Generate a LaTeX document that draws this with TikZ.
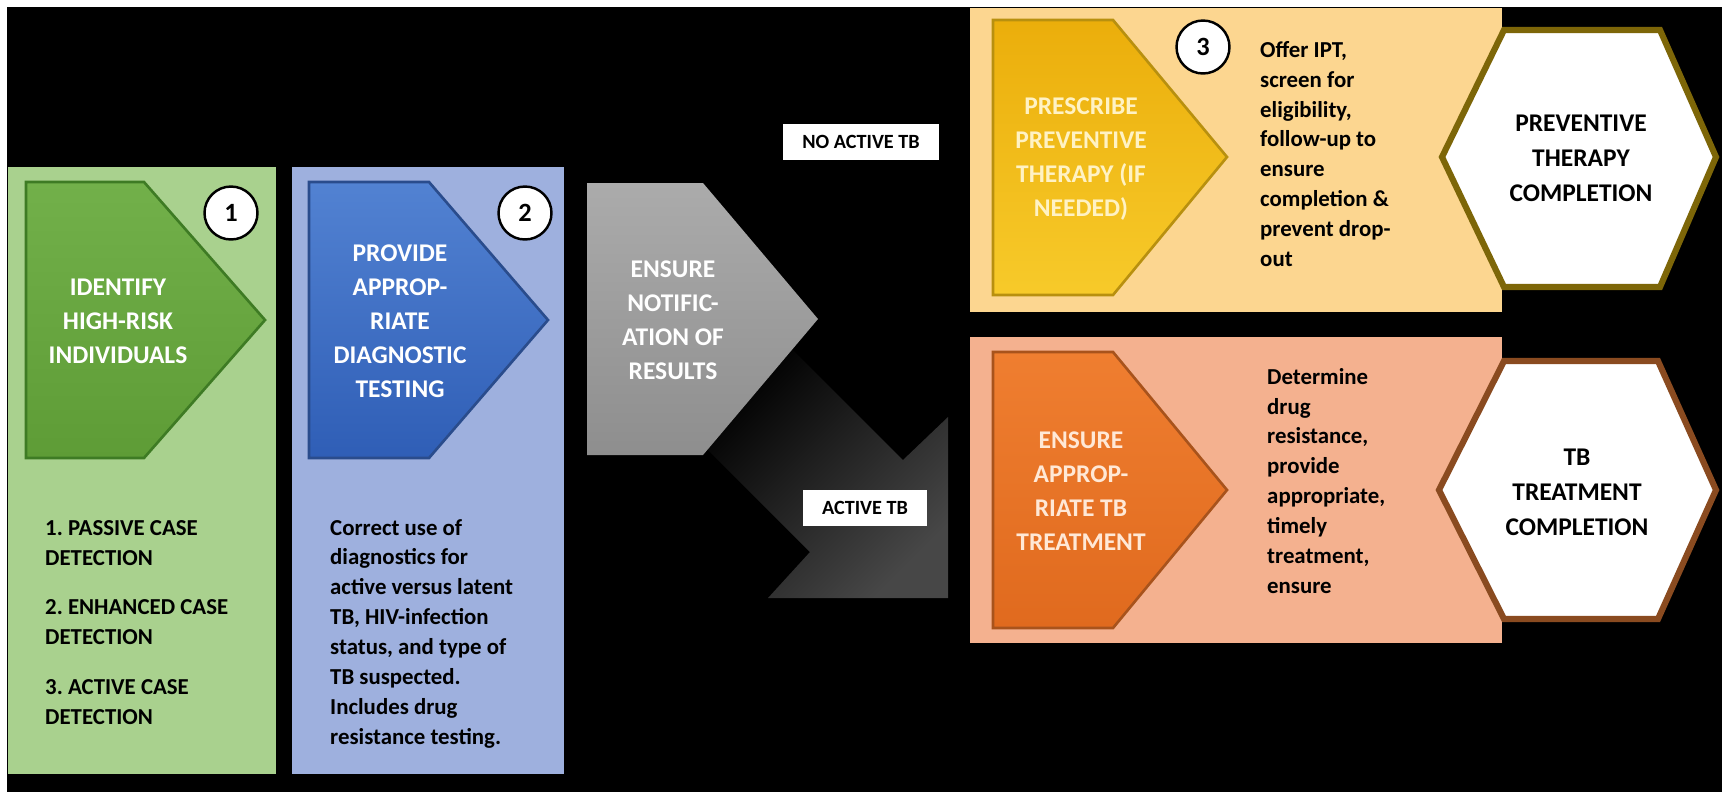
\documentclass[tikz,border=0pt]{standalone}
\usepackage{fontspec}
\setmainfont{Carlito}
\usepackage{tikz}
\frenchspacing

\definecolor{greenpanel}{HTML}{A9D18E}
\definecolor{greentop}{HTML}{72B04A}
\definecolor{greenbot}{HTML}{5E9C36}
\definecolor{greenline}{HTML}{3E7B24}
\definecolor{bluepanel}{HTML}{9EB0DE}
\definecolor{bluetop}{HTML}{5282D2}
\definecolor{bluebot}{HTML}{2F5EB6}
\definecolor{blueline}{HTML}{2A4C8C}
\definecolor{greytop}{HTML}{ABABAB}
\definecolor{greybot}{HTML}{8E8E8E}
\definecolor{darkhead}{HTML}{474747}
\definecolor{yellowpanel}{HTML}{FCD690}
\definecolor{yellowtop}{HTML}{EBAE0B}
\definecolor{yellowbot}{HTML}{F7CA2A}
\definecolor{yellowline}{HTML}{B8900F}
\definecolor{yellowtext}{HTML}{FFF2C4}
\definecolor{pinkpanel}{HTML}{F4B18F}
\definecolor{orangetop}{HTML}{EF7E30}
\definecolor{orangebot}{HTML}{E06A1E}
\definecolor{orangeline}{HTML}{A8531C}
\definecolor{orangetext}{HTML}{FFE8D6}
\definecolor{oliveline}{HTML}{7D6608}
\definecolor{brownline}{HTML}{8A4B20}

\begin{document}
\begin{tikzpicture}[x=0.02cm, y=-0.02cm,
  stagetext/.style={text=#1, font=\bfseries\fontsize{14.5}{19.4}\selectfont, align=center},
  notetext/.style={anchor=north west, font=\bfseries\fontsize{13}{17}\selectfont, align=left},
  badge/.style={circle, draw=black, line width=1.4pt, fill=white, minimum size=1.06cm,
    inner sep=0pt, font=\bfseries\fontsize{15}{18}\selectfont},
  tagbox/.style={fill=white, minimum width=#1, minimum height=0.72cm, inner sep=0pt,
    font=\bfseries\fontsize{11.5}{14}\selectfont},
  goal/.style={fill=white, line width=3.5pt, line join=miter},
  goaltext/.style={font=\bfseries\fontsize{14.5}{20}\selectfont, align=center}]

  \fill[white] (0,0) rectangle (1722,792);
  \fill[black] (7,7) rectangle (1722,792);

  % panels
  \fill[greenpanel] (8,167) rectangle (276,774);
  \fill[bluepanel] (292,167) rectangle (564,774);
  \fill[yellowpanel] (970,8) rectangle (1502,312);
  \fill[pinkpanel] (970,337) rectangle (1502,643);

  % branch towards treatment
  \shade[top color=black, bottom color=darkhead, shading angle=45]
    (790,347) -- (903,460) -- (948,417) -- (948,598) -- (768,598)
    -- (810,552) -- (700,442) -- cycle;

  % stage arrows
  \draw[greenline, line width=1.5pt, top color=greentop, bottom color=greenbot]
    (26,182) -- (144,182) -- (265,320) -- (144,458) -- (26,458) -- cycle;
  \draw[blueline, line width=1.5pt, top color=bluetop, bottom color=bluebot]
    (309,182) -- (429,182) -- (548,320) -- (429,458) -- (309,458) -- cycle;
  \shade[top color=greytop, bottom color=greybot]
    (587,183) -- (703,183) -- (818,319) -- (703,455) -- (587,455) -- cycle;
  \draw[yellowline, line width=1.5pt, top color=yellowtop, bottom color=yellowbot]
    (993,20) -- (1113,20) -- (1227,157) -- (1113,295) -- (993,295) -- cycle;
  \draw[orangeline, line width=1.5pt, top color=orangetop, bottom color=orangebot]
    (993,352) -- (1113,352) -- (1227,490) -- (1113,628) -- (993,628) -- cycle;

  % end points
  \draw[goal, draw=oliveline]
    (1442,157) -- (1504,30) -- (1660,30) -- (1716,157) -- (1660,287) -- (1504,287) -- cycle;
  \draw[goal, draw=brownline]
    (1439,490) -- (1504,361) -- (1658,361) -- (1716,490) -- (1658,619) -- (1504,619) -- cycle;

  \node[stagetext=white] (identify) at (118,321) {IDENTIFY\\HIGH-RISK\\INDIVIDUALS};
  \node[stagetext=white] (provide) at (400,321) {PROVIDE\\APPROP-\\RIATE\\DIAGNOSTIC\\TESTING};
  \node[stagetext=white] (notify) at (673,320) {ENSURE\\NOTIFIC-\\ATION OF\\RESULTS};
  \node[stagetext=yellowtext] (prescribe) at (1081,159) {PRESCRIBE\\PREVENTIVE\\THERAPY (IF\\NEEDED)};
  \node[stagetext=orangetext] (treat) at (1081,491) {ENSURE\\APPROP-\\RIATE TB\\TREATMENT};

  \node[badge] (one) at (231,213) {1};
  \node[badge] (two) at (525,213) {2};
  \node[badge] (three) at (1203,47) {3};

  \node[notetext] (detect) at (39,514)
    {1. PASSIVE CASE\\DETECTION\\[0.4cm]2. ENHANCED CASE\\DETECTION\\[0.4cm]3. ACTIVE CASE\\DETECTION};
  \node[notetext] (diagnose) at (324,513)
    {Correct use of\\diagnostics for\\active versus latent\\TB, HIV-infection\\status, and type of\\TB suspected.\\Includes drug\\resistance testing.};
  \node[notetext] (offer) at (1254,35)
    {Offer IPT,\\screen for\\eligibility,\\follow-up to\\ensure\\completion \&\\prevent drop-\\out};
  \node[notetext] (resist) at (1261,362)
    {Determine\\drug\\resistance,\\provide\\appropriate,\\timely\\treatment,\\ensure};

  \node[tagbox=3.12cm] (noactive) at (861,141.5) {NO ACTIVE TB};
  \node[tagbox=2.48cm] (active) at (865,507.5) {ACTIVE TB};

  \node[goaltext] (ptdone) at (1581,158) {PREVENTIVE\\THERAPY\\COMPLETION};
  \node[goaltext] (tbdone) at (1577,492) {TB\\TREATMENT\\COMPLETION};
\end{tikzpicture}
\end{document}
